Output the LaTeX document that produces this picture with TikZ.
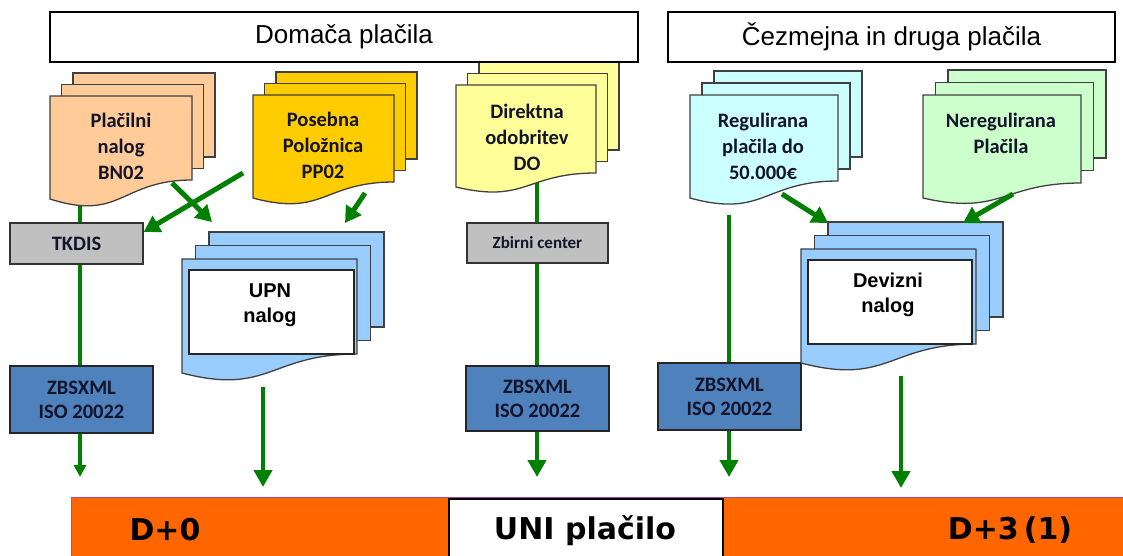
\documentclass[tikz,border=0pt]{standalone}
\usepackage{fontspec}
\usetikzlibrary{arrows.meta}
\newfontfamily\carlito{Carlito}
\newfontfamily\libsans{Liberation Sans}
\newfontfamily\dejavu{DejaVu Sans}
\definecolor{peach}{HTML}{FFCC99}
\definecolor{gold}{HTML}{FFCC00}
\definecolor{lyellow}{HTML}{FFFF99}
\definecolor{lcyan}{HTML}{CCFFFF}
\definecolor{lgreen}{HTML}{CCFFCC}
\definecolor{docblue}{HTML}{99CCFF}
\definecolor{boxgray}{HTML}{C0C0C0}
\definecolor{zblue}{HTML}{4F81BD}
\definecolor{flowgreen}{HTML}{008000}
\definecolor{orangebar}{HTML}{FF6600}
\definecolor{docborder}{HTML}{404040}
\definecolor{doctxt}{HTML}{14142A}
\definecolor{barline}{HTML}{A050A0}
\newcommand\mdocshape[7]{%
  \pgfmathsetmacro\mdM{(#1+#3)/2}%
  \pgfmathsetmacro\mdC{#4+2.2*(#5-#4)}%
  \draw[docline, fill=#7] ({#1+2*#6},{#2-2*#6}) rectangle ({#3+2*#6},{#4-2*#6});
  \draw[docline, fill=#7] ({#1+#6},{#2-#6}) rectangle ({#3+#6},{#4-#6});
  \draw[docline, fill=#7] (#1,#2) -- (#3,#2) -- (#3,#4) .. controls (\mdM,#4) and (\mdM,\mdC) .. (#1,#5) -- cycle;
}
\tikzset{
  docline/.style={draw=docborder, line width=1.3},
  doctext/.style={font=\carlito\bfseries\fontsize{20.5}{26}\selectfont, align=center, text=doctxt, inner sep=0},
  graybox/.style={draw=black!80, line width=1.3, fill=boxgray, text=doctxt, inner sep=0},
  zbox/.style={draw=black!85, line width=1.3, fill=zblue, font=\carlito\bfseries\fontsize{20.5}{24}\selectfont, align=center, text=doctxt, minimum width=143pt, inner sep=0},
  hdr/.style={draw=black, line width=2, fill=white, font=\libsans\fontsize{26}{30}\selectfont, minimum height=50pt, inner sep=0},
  innerbox/.style={draw=black!85, line width=1.5, fill=white, inner sep=0, anchor=north west},
  innertext/.style={font=\libsans\bfseries\fontsize{20}{25}\selectfont, align=center, inner sep=0},
  bartext/.style={font=\dejavu\bfseries\fontsize{30}{36}\selectfont, inner sep=0},
  flow/.style={draw=flowgreen, line width=4},
  arrowsmall/.style={draw=flowgreen, fill=flowgreen, line width=4, -{Triangle[width=12pt,length=12pt]}},
  arrowbig/.style={draw=flowgreen, fill=flowgreen, line width=4.5, -{Triangle[width=18pt,length=17pt]}},
  arrowdiag/.style={draw=flowgreen, fill=flowgreen, line width=5, -{Triangle[width=18pt,length=16pt]}},
}
\begin{document}
\begin{tikzpicture}[x=1pt,y=-1pt]
\useasboundingbox (0,0) rectangle (1123,555);
\clip (0,0) rectangle (1123,555);
\fill[white] (0,0) rectangle (1123,555);

% boxes
\node[graybox, font=\carlito\bfseries\fontsize{20.5}{24}\selectfont, minimum width=133pt, minimum height=41pt] (tkdis) at (76.5,243.5) {TKDIS};
\node[graybox, font=\carlito\bfseries\fontsize{17}{20}\selectfont, minimum width=141pt, minimum height=40pt] (zbirni) at (537.5,243) {Zbirni center};
\node[zbox, minimum height=67pt] (zb1) at (81.5,399.5) {ZBSXML\\ISO 20022};
\node[zbox, minimum height=65pt] (zb2) at (537.5,398.5) {ZBSXML\\ISO 20022};
\node[zbox, minimum height=67pt] (zb3) at (729.5,396.5) {ZBSXML\\ISO 20022};

% vertical connectors
\coordinate (c1) at (80,195);
\coordinate (c2) at (537,180);
\coordinate (c3) at (729,215);
\coordinate (c4) at (263,387);
\coordinate (c5) at (901,376);
\coordinate (t1) at (80,477);
\coordinate (t2) at (537,477);
\coordinate (t3) at (729,477);
\coordinate (t4) at (263,487);
\coordinate (t5) at (901,488);
\draw[flow] (c1) -- (c1 |- tkdis.north);
\draw[flow] (tkdis.south -| c1) -- (zb1.north -| c1);
\draw[arrowsmall] (zb1.south -| c1) -- (t1);
\draw[flow] (c2) -- (c2 |- zbirni.north);
\draw[flow] (zbirni.south -| c2) -- (zb2.north -| c2);
\draw[arrowbig] (zb2.south -| c2) -- (t2);
\draw[flow] (c3) -- (c3 |- zb3.north);
\draw[arrowbig] (zb3.south -| c3) -- (t3);
\draw[arrowbig] (c4) -- (t4);
\draw[arrowbig] (c5) -- (t5);

% documents
\mdocshape{50}{96}{192}{180}{199}{11.5}{peach}
\node[doctext] (placilni) at (121,146) {Plačilni\\nalog\\BN02};
\mdocshape{253}{95}{394}{182}{198}{11.5}{gold}
\node[doctext] (posebna) at (323,145.5) {Posebna\\Položnica\\PP02};
\mdocshape{456}{85}{596}{173}{187}{11.5}{lyellow}
\node[doctext] (direktna) at (527,137) {Direktna\\odobritev\\DO};
\mdocshape{690}{95}{838}{181}{198}{12}{lcyan}
\node[doctext] (regul) at (763,146) {Regulirana\\plačila do\\50.000€};
\mdocshape{923}{95}{1081}{183}{198}{12.5}{lgreen}
\node[doctext] (nereg) at (1001,133) {Neregulirana\\Plačila};
\mdocshape{182}{259}{357}{354}{373}{13.5}{docblue}
\node[innerbox, minimum width=165pt, minimum height=84pt] (upnbox) at (188,269) {};
\node[innertext] (upn) at (270,305.5) {UPN\\nalog};
\mdocshape{801}{249}{976}{344}{363}{13.5}{docblue}
\node[innerbox, minimum width=164pt, minimum height=84pt] (devbox) at (807,259) {};
\node[innertext] (dev) at (888,294.5) {Devizni\\nalog};

% diagonal arrows
\coordinate (s1) at (243,173);
\coordinate (s2) at (172,183);
\coordinate (e2) at (212,222);
\coordinate (s3) at (365,193);
\coordinate (e3) at (345,223);
\coordinate (s4) at (782,194);
\coordinate (e4) at (828,223);
\coordinate (s5) at (1013,194);
\coordinate (e5) at (963,223);
\draw[arrowdiag] (s1) -- (tkdis.east |- 0,232);
\draw[arrowdiag] (s2) -- (e2);
\draw[arrowdiag] (s3) -- (e3);
\draw[arrowdiag] (s4) -- (e4);
\draw[arrowdiag] (s5) -- (e5);

% headers
\node[hdr, minimum width=588pt] (dom) at (344,37) {Domača plačila};
\node[hdr, minimum width=447pt] (cez) at (891.5,37) {Čezmejna in druga plačila};

% bottom bar
\fill[orangebar] (71,497) rectangle (1130,560);
\draw[barline, line width=1] (71,560) -- (71,497) -- (1130,497);
\node[draw=black, line width=1.8, fill=white, minimum width=274pt, minimum height=64pt, anchor=north west, inner sep=0] (unibox) at (448,498) {};
\node[bartext] (uni) at (585,531) {UNI plačilo};
\node[bartext] (d0) at (165,530) {D+0};
\node[bartext] (d3) at (1010,530) {D+3\,(1)};
\end{tikzpicture}
\end{document}
